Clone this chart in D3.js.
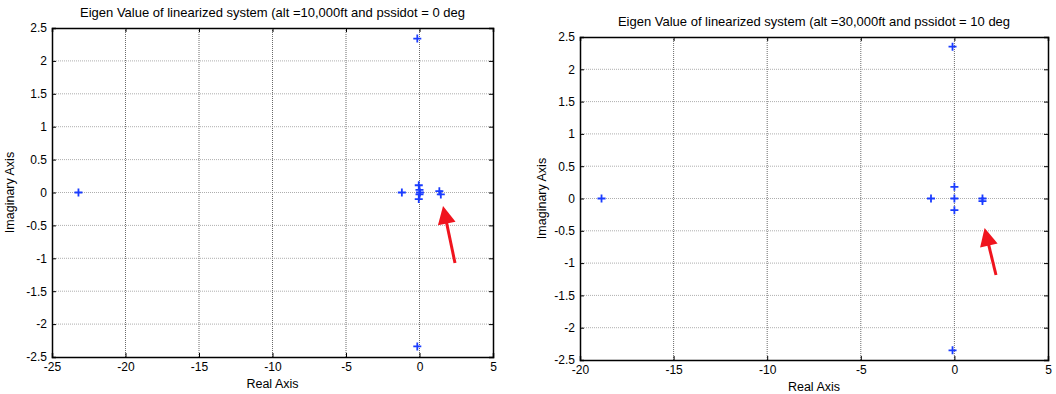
<!DOCTYPE html>
<html>
<head>
<meta charset="utf-8">
<script src="https://cdn.jsdelivr.net/npm/d3@7"></script>
<style>
  body { margin: 0; background: #fff; }
  svg { font-family: "Liberation Sans", Arial, sans-serif; }
  .tick text { font-size: 12px; fill: #000; }
</style>
</head>
<body>
<div id="chart"></div>
<script>
// eigenvalues, alt = 10,000ft, pssidot = 0 deg
var leftReal = [-23.2, -0.15, -0.15, -1.2, -0.05, -0.05, 0.0, 0.0, 0.03, 1.35, 1.45];
var leftImag = [0.0, 2.34, -2.34, 0.0, 0.11, -0.1, 0.04, -0.03, 0.0, 0.02, -0.03];

// eigenvalues, alt = 30,000ft, pssidot = 10 deg
var rightReal = [-18.85, -0.1, -0.1, -1.25, 0.0, 0.0, 0.0, 1.5, 1.5];
var rightImag = [0.0, 2.35, -2.35, 0.0, 0.18, -0.18, 0.0, 0.0, -0.04];

var leftXTicks = [-25, -20, -15, -10, -5, 0, 5];
var rightXTicks = [-20, -15, -10, -5, 0, 5];
var yTicks = [-2.5, -2, -1.5, -1, -0.5, 0, 0.5, 1, 1.5, 2, 2.5];

var leftTitle = "Eigen Value of linearized system (alt =10,000ft and pssidot = 0 deg";
var rightTitle = "Eigen Value of linearized system (alt =30,000ft and pssidot = 10 deg";

var svg = d3.select("#chart").append("svg")
    .attr("width", 1056)
    .attr("height", 394);

var defs = svg.append("defs");
defs.append("marker")
    .attr("id", "head")
    .attr("viewBox", "0 0 10 10")
    .attr("refX", 2).attr("refY", 5)
    .attr("markerWidth", 8).attr("markerHeight", 6)
    .attr("markerUnits", "strokeWidth")
    .attr("orient", "auto")
    .append("path")
    .attr("d", "M0,0 L10,5 L0,10 Z")
    .attr("fill", "#f0141e");

// plain hyphen minus like the original plot
var fmt = d => String(d);

function drawPanel(opt) {
    var g = svg.append("g");
    var x = d3.scaleLinear().domain(opt.xDomain).range([opt.left, opt.right]);
    var y = d3.scaleLinear().domain([-2.5, 2.5]).range([opt.bottom, opt.top]);

    // grid
    g.selectAll(".vgrid").data(opt.xTicks.slice(1, -1)).enter().append("line")
        .attr("x1", d => x(d)).attr("x2", d => x(d))
        .attr("y1", opt.top).attr("y2", opt.bottom)
        .attr("stroke", "#444").attr("stroke-width", 0.8)
        .attr("stroke-dasharray", "1,1");
    g.selectAll(".hgrid").data(yTicks.slice(1, -1)).enter().append("line")
        .attr("x1", opt.left).attr("x2", opt.right)
        .attr("y1", d => y(d)).attr("y2", d => y(d))
        .attr("stroke", "#999").attr("stroke-width", 0.8)
        .attr("stroke-dasharray", "1,1");

    // axes
    var xAxis = d3.axisBottom(x).tickValues(opt.xTicks).tickSize(-4).tickPadding(5)
        .tickFormat(fmt);
    var gx = g.append("g").attr("transform", "translate(0," + opt.bottom + ")").call(xAxis);
    var gxTop = g.append("g").attr("transform", "translate(0," + opt.top + ")")
        .call(d3.axisTop(x).tickValues(opt.xTicks).tickSize(-4).tickFormat(""));
    var yAxis = d3.axisLeft(y).tickValues(yTicks).tickSize(-4).tickPadding(5)
        .tickFormat(fmt);
    var gy = g.append("g").attr("transform", "translate(" + opt.left + ",0)").call(yAxis);
    var gyR = g.append("g").attr("transform", "translate(" + opt.right + ",0)")
        .call(d3.axisRight(y).tickValues(yTicks).tickSize(-4).tickFormat(""));
    [gx, gxTop, gy, gyR].forEach(function(a) {
        a.select(".domain").attr("stroke", "#000").attr("stroke-width", 1.5);
        a.selectAll(".tick line").attr("stroke", "#000");
    });

    // labels
    g.append("text")
        .attr("x", (opt.left + opt.right) / 2).attr("y", opt.top - 11)
        .attr("text-anchor", "middle").attr("font-size", 13)
        .text(opt.title);
    g.append("text")
        .attr("x", (opt.left + opt.right) / 2).attr("y", opt.bottom + 31)
        .attr("text-anchor", "middle").attr("font-size", 12.5)
        .text("Real Axis");
    g.append("text")
        .attr("transform", "translate(" + opt.ylabX + "," + ((opt.top + opt.bottom) / 2) + ") rotate(-90)")
        .attr("text-anchor", "middle").attr("font-size", 12.5)
        .text("Imaginary Axis");

    // eigenvalue markers (+)
    var pts = opt.re.map((r, i) => [r, opt.im[i]]);
    var m = g.selectAll(".pt").data(pts).enter().append("g")
        .attr("transform", d => "translate(" + x(d[0]) + "," + y(d[1]) + ")");
    m.append("path")
        .attr("d", "M-4,0H4M0,-4V4")
        .attr("stroke", "#1a3cff").attr("stroke-width", 1.8)
        .attr("fill", "none");

    // red arrow pointing at the unstable pole
    g.append("line")
        .attr("x1", opt.arrow[0]).attr("y1", opt.arrow[1])
        .attr("x2", opt.arrow[2]).attr("y2", opt.arrow[3])
        .attr("stroke", "#f0141e").attr("stroke-width", 3)
        .attr("marker-end", "url(#head)");
}

drawPanel({
    xDomain: [-25, 5], xTicks: leftXTicks,
    left: 52, right: 493, top: 28, bottom: 357,
    re: leftReal, im: leftImag, title: leftTitle, ylabX: 14,
    arrow: [455, 263, 446, 220]
});

drawPanel({
    xDomain: [-20, 5], xTicks: rightXTicks,
    left: 580, right: 1048, top: 37, bottom: 360,
    re: rightReal, im: rightImag, title: rightTitle, ylabX: 546,
    arrow: [996, 275, 988, 242]
});
</script>
</body>
</html>
